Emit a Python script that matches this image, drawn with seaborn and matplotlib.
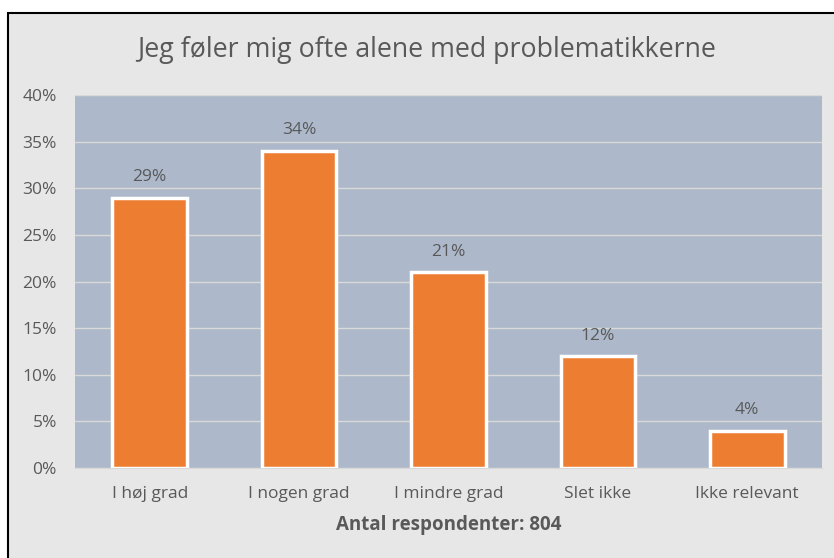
import matplotlib
matplotlib.use("Agg")
import matplotlib.pyplot as plt
from matplotlib.patches import Rectangle
from matplotlib.ticker import FixedLocator, FuncFormatter
import seaborn as sns
import pandas as pd

# data
kategorier = ['I høj grad', 'I nogen grad', 'I mindre grad', 'Slet ikke', 'Ikke relevant']
andele = [29, 34, 21, 12, 4]
titel = 'Jeg føler mig ofte alene med problematikkerne'
xlabel = 'Antal respondenter: 804'

df = pd.DataFrame({'kategori': kategorier, 'andel': andele})

sns.set_style('white')
plt.rcParams['font.family'] = ['Open Sans', 'DejaVu Sans']

tekst = '#595959'
fig = plt.figure(figsize=(8.34, 5.58), dpi=100)
fig.patch.set_facecolor('white')

# chart-ramme med grå baggrund (tegnes under akserne)
fig.patches.append(Rectangle((8 / 834, -0.05), 1.0, 1 - 13 / 558 + 0.05,
                             transform=fig.transFigure, facecolor='#E7E7E7',
                             edgecolor='black', linewidth=1.5, zorder=-1))

ax = fig.add_axes([75 / 834, 1 - 468 / 558, 747 / 834, 373 / 558])
ax.set_facecolor('#ADB9CA')

sns.barplot(data=df, x='kategori', y='andel', color='#ED7D31', width=0.5,
            edgecolor='white', linewidth=2.5, saturation=1, ax=ax, zorder=3)

for c in ax.containers:
    ax.bar_label(c, labels=[f'{v}%' for v in andele], padding=9,
                 fontsize=12.5, color=tekst)

ax.set_ylim(0, 40)
ax.set_xlim(-0.5, len(kategorier) - 0.5)
ax.set_yticks(range(0, 41, 5))
ax.yaxis.set_major_formatter(FuncFormatter(lambda v, p: f'{v:.0f}%'))
ax.yaxis.grid(True, color='#D9D9D9', linewidth=1, zorder=0)
ax.set_axisbelow(True)

ax.tick_params(axis='y', length=0, labelsize=12.5, labelcolor=tekst, pad=13)
ax.tick_params(axis='x', which='major', length=0, labelsize=12.5,
               labelcolor=tekst, pad=13)
ax.xaxis.set_minor_locator(FixedLocator([i - 0.5 for i in range(len(kategorier) + 1)]))
ax.tick_params(axis='x', which='minor', length=6, color='#D9D9D9', width=1)

for s in ['top', 'right', 'left']:
    ax.spines[s].set_visible(False)
ax.spines['bottom'].set_color('#D9D9D9')

ax.set_ylabel('')
ax.set_xlabel(xlabel, fontsize=13.5, fontweight='bold', color=tekst, labelpad=9)

fig.text(427 / 834, 1 - 50 / 558, titel, ha='center', va='center',
         fontsize=19.3, color=tekst)

fig.savefig('out.png', dpi=100)
